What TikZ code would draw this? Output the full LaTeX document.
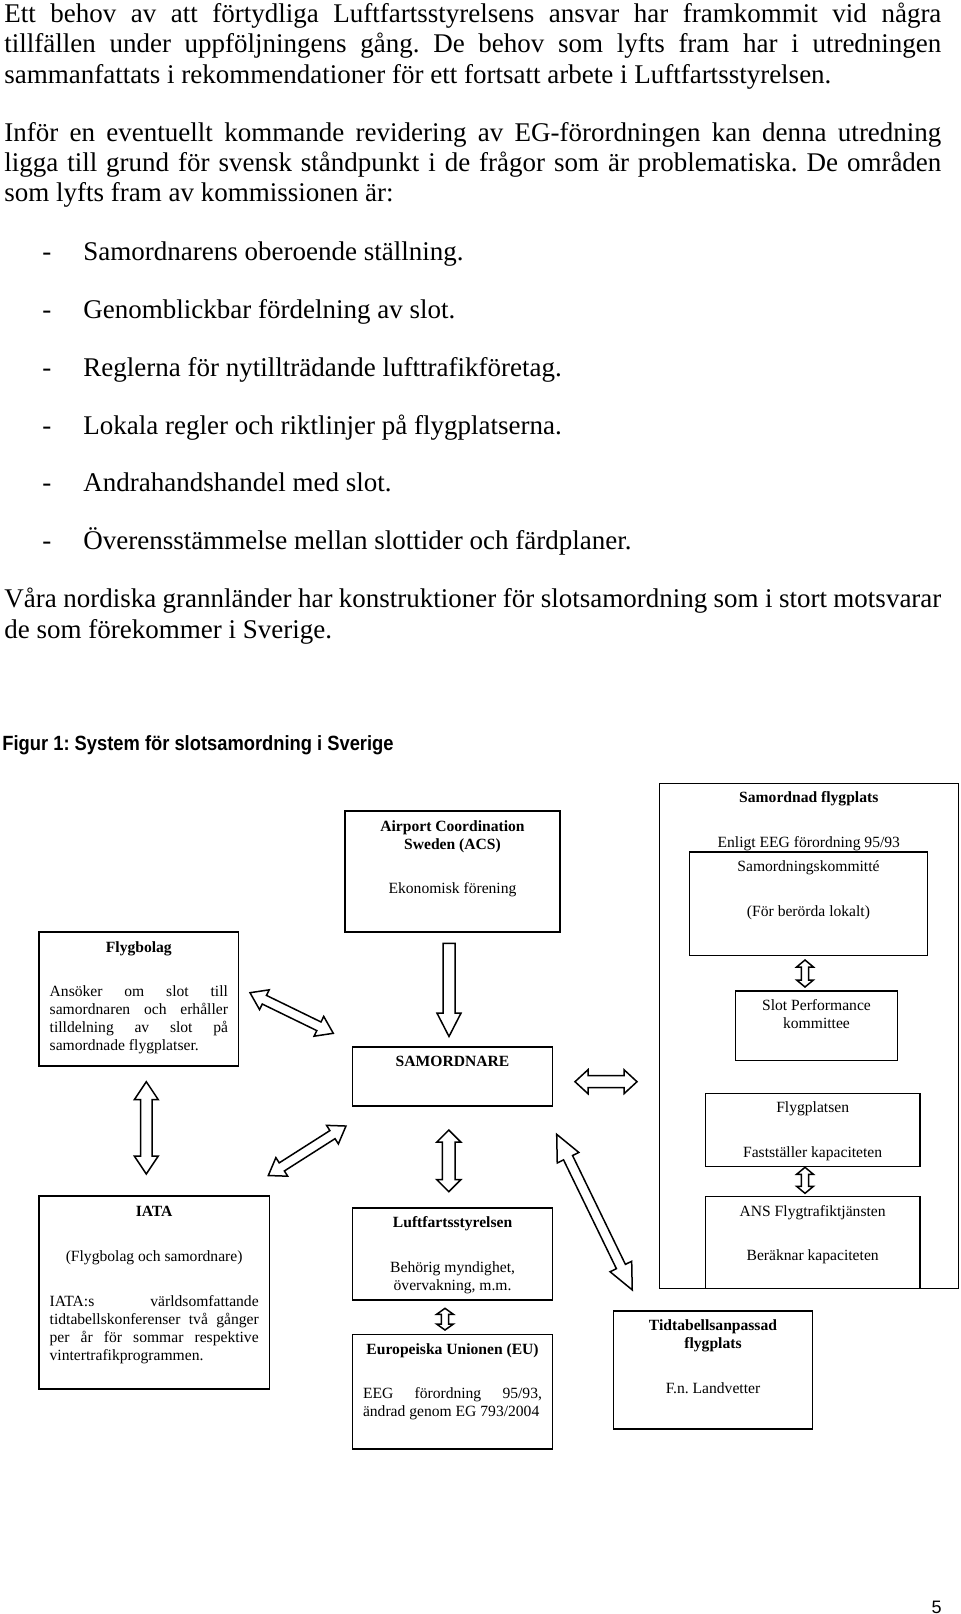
\documentclass[tikz,border=0pt]{standalone}
\usepackage{fontspec}
\setmainfont{Liberation Serif}
\newfontfamily\figcapfont[FakeStretch=0.89]{Liberation Sans}
\newfontfamily\pagenofont{Liberation Sans}
\usetikzlibrary{calc, fit, positioning}
\frenchspacing

\newcommand{\bodyfont}{\fontsize{13.5pt}{15.2pt}\selectfont}
\newcommand{\boxfont}{\fontsize{7.8pt}{9pt}\selectfont}

% hollow block arrows: tip, tip, half head, half shaft, head length
\newcommand{\dblarrow}[5]{%
  \draw[blk] let \p1=(#1), \p2=(#2), \n1={atan2(\y2-\y1,\x2-\x1)}, \n2={veclen(\x2-\x1,\y2-\y1)} in
    [shift={(\p1)}, rotate=\n1]
    (0pt,0pt) -- (#5,#3) -- (#5,#4) -- ({\n2-#5},#4) -- ({\n2-#5},#3) -- (\n2,0pt)
    -- ({\n2-#5},-#3) -- ({\n2-#5},-#4) -- (#5,-#4) -- (#5,-#3) -- cycle;
}
\newcommand{\sglarrow}[5]{%
  \draw[blk] let \p1=(#1), \p2=(#2), \n1={atan2(\y2-\y1,\x2-\x1)}, \n2={veclen(\x2-\x1,\y2-\y1)} in
    [shift={(\p1)}, rotate=\n1]
    (0pt,#4) -- ({\n2-#5},#4) -- ({\n2-#5},#3) -- (\n2,0pt)
    -- ({\n2-#5},-#3) -- ({\n2-#5},-#4) -- (0pt,-#4) -- cycle;
}

\begin{document}
\begin{tikzpicture}[
  x=0.5pt, y=-0.5pt,
  box/.style={draw, line width=0.7pt, inner sep=0pt, fit={#1}},
  hd/.style={font=\boxfont\bfseries, anchor=base, inner sep=0pt, align=center},
  lbl/.style={font=\boxfont, anchor=base, inner sep=0pt, align=center},
  boxpar/.style={font=\boxfont, anchor=base west, inner sep=0pt, align=justify, text width=#1},
  bodyln/.style={font=\bodyfont, anchor=base west, inner sep=0pt},
  blk/.style={draw, fill=white, line width=0.75pt, line join=miter},
]
\fill[white] (0,0) rectangle (960,1614);

\node[bodyln] (l1) at (4,22.7) {\makebox[468.5pt][s]{Ett behov av att förtydliga Luftfartsstyrelsens ansvar har framkommit vid några}};
\node[bodyln] (l2) at (4,52.6) {\makebox[468.5pt][s]{tillfällen under uppföljningens gång. De behov som lyfts fram har i utredningen}};
\node[bodyln] (l3) at (4,83.4) {sammanfattats i rekommendationer för ett fortsatt arbete i Luftfartsstyrelsen.};
\node[bodyln] (l4) at (4,141) {\makebox[468.5pt][s]{Inför en eventuellt kommande revidering av EG-förordningen kan denna utredning}};
\node[bodyln] (l5) at (4,171.5) {\makebox[468.5pt][s]{ligga till grund för svensk ståndpunkt i de frågor som är problematiska. De områden}};
\node[bodyln] (l6) at (4,201.7) {som lyfts fram av kommissionen är:};
\foreach \y/\txt [count=\i] in {260.5/Samordnarens oberoende ställning.,
    318/Genomblickbar fördelning av slot.,
    376.8/Reglerna för nytillträdande lufttrafikföretag.,
    434.3/Lokala regler och riktlinjer på flygplatserna.,
    491.5/Andrahandshandel med slot.,
    549.5/Överensstämmelse mellan slottider och färdplaner.} {
  \node[bodyln] (dash\i) at (42,\y) {-};
  \node[bodyln] (item\i) at (83,\y) {\txt};
}
\node[bodyln] (l7) at (4,607.8) {\makebox[468.5pt][s]{Våra nordiska grannländer har konstruktioner för slotsamordning som i stort motsvarar}};
\node[bodyln] (l8) at (4,638.2) {de som förekommer i Sverige.};

\node[font=\figcapfont\bfseries\fontsize{10.3pt}{12pt}\selectfont, anchor=base west, inner sep=0pt] (figcap) at (2,750) {Figur 1: System för slotsamordning i Sverige};

% boxes
\node[box={(345,811) (560,932)}] (acs) {};
\node[box={(39,932) (238.7,1066)}] (flyg) {};
\node[box={(352.7,1047) (552.3,1106)}] (samord) {};
\node[box={(39,1196) (269.3,1389)}] (iata) {};
\node[box={(352.7,1208) (552.5,1300)}] (luft) {};
\node[box={(352.7,1334.3) (552.5,1449)}] (eu) {};
\node[box={(613.3,1311) (812.7,1429)}] (tidtab) {};
\node[box={(659.3,783.3) (958.3,1288.5)}] (samflyg) {};
\node[box={(689.3,852) (927.7,955.3)}] (komm) {};
\node[box={(735.7,991) (897.3,1060.3)}] (spc) {};
\node[box={(705.3,1093.3) (920,1166.7)}] (fplats) {};
\node[box={(705.3,1196.7) (920,1288.5)}] (ans) {};

% texts
\node[hd] (acsT) at ($(acs.north)+(0,39)$) {Airport Coordination\\Sweden (ACS)};
\node[lbl] (acsB) at ($(acs.north)+(0,83)$) {Ekonomisk förening};
\node[hd] (flygT) at ($(flyg.north)+(0,20.7)$) {Flygbolag};
\node[boxpar=89.15pt] (flygB) at ($(flyg.north west)+(11,65.3)$) {Ansöker om slot till\linebreak samordnaren och erhåller\linebreak tilldelning av slot på\linebreak samordnade flygplatser.};
\node[hd] (samordT) at ($(samord.north)+(0,20.3)$) {SAMORDNARE};
\node[hd] (iataT) at ($(iata.north)+(0,20.7)$) {IATA};
\node[lbl] (iataS) at ($(iata.north)+(0,65.7)$) {(Flygbolag och samordnare)};
\node[boxpar=104.5pt] (iataB) at ($(iata.north west)+(11,110.7)$) {IATA:s världsomfattande\linebreak tidtabellskonferenser två gånger\linebreak per år för sommar respektive\linebreak vintertrafikprogrammen.};
\node[hd] (luftT) at ($(luft.north)+(0,20.3)$) {Luftfartsstyrelsen};
\node[lbl] (luftB) at ($(luft.north)+(0,83)$) {Behörig myndighet,\\övervakning, m.m.};
\node[hd] (euT) at ($(eu.north)+(0,20.7)$) {Europeiska Unionen (EU)};
\node[boxpar=89.5pt] (euB) at ($(eu.north west)+(10.6,64.7)$) {EEG förordning 95/93,\linebreak ändrad genom EG 793/2004};
\node[hd] (tidtabT) at ($(tidtab.north)+(0,38)$) {Tidtabellsanpassad\\flygplats};
\node[lbl] (tidtabB) at ($(tidtab.north)+(0,83.3)$) {F.n. Landvetter};
\node[hd] (samflygT) at ($(samflyg.north)+(0,20)$) {Samordnad flygplats};
\node[lbl] (samflygB) at ($(samflyg.north)+(0,64.4)$) {Enligt EEG förordning 95/93};
\node[lbl] (kommT) at ($(komm.north)+(0,20.3)$) {Samordningskommitté};
\node[lbl] (kommB) at ($(komm.north)+(0,65.3)$) {(För berörda lokalt)};
\node[lbl] (spcT) at ($(spc.north)+(0,38.3)$) {Slot Performance\\kommittee};
\node[lbl] (fplatsT) at ($(fplats.north)+(0,20)$) {Flygplatsen};
\node[lbl] (fplatsB) at ($(fplats.north)+(0,64.4)$) {Fastställer kapaciteten};
\node[lbl] (ansT) at ($(ans.north)+(0,20)$) {ANS Flygtrafiktjänsten};
\node[lbl] (ansB) at ($(ans.north)+(0,64.3)$) {Beräknar kapaciteten};

% arrow ends
\coordinate (fb-sa) at (250,992.7);
\coordinate (sa-fb) at (333.3,1033.3);
\coordinate (acs-sa) at (449,943.3);
\coordinate (sa-acs) at (449,1036.5);
\coordinate (fb-ia) at (146.3,1081.7);
\coordinate (ia-fb) at (146.3,1174);
\coordinate (ia-sa) at (268.3,1175.5);
\coordinate (sa-ia) at (346,1126);
\coordinate (sa-lu) at (448.8,1130);
\coordinate (lu-sa) at (448.8,1191.7);
\coordinate (lu-eu) at (445,1308.3);
\coordinate (eu-lu) at (445,1330);
\coordinate (sa-fp) at (575,1081.7);
\coordinate (fp-sa) at (637,1081.7);
\coordinate (sa-tt) at (556.7,1134.3);
\coordinate (tt-sa) at (632.3,1290);
\coordinate (ko-sp) at (805,960);
\coordinate (sp-ko) at (805,987);
\coordinate (fl-an) at (805,1167.3);
\coordinate (an-fl) at (805,1193.3);

\dblarrow{fb-sa}{sa-fb}{5.5pt}{2.4pt}{8pt}
\sglarrow{acs-sa}{sa-acs}{6pt}{3pt}{11.7pt}
\dblarrow{fb-ia}{ia-fb}{6pt}{2.9pt}{9pt}
\dblarrow{ia-sa}{sa-ia}{5.5pt}{2.4pt}{8pt}
\dblarrow{sa-lu}{lu-sa}{6pt}{3.2pt}{6pt}
\dblarrow{lu-eu}{eu-lu}{4.2pt}{1.8pt}{3pt}
\dblarrow{sa-fp}{fp-sa}{6pt}{3pt}{6.5pt}
\dblarrow{sa-tt}{tt-sa}{6pt}{2.5pt}{13pt}
\dblarrow{ko-sp}{sp-ko}{4.2pt}{1.8pt}{3.5pt}
\dblarrow{fl-an}{an-fl}{4.2pt}{1.8pt}{3.5pt}

\node[font=\pagenofont\fontsize{9pt}{11pt}\selectfont, anchor=base, inner sep=0pt] (pageno) at (936.7,1613) {5};
\end{tikzpicture}
\end{document}
